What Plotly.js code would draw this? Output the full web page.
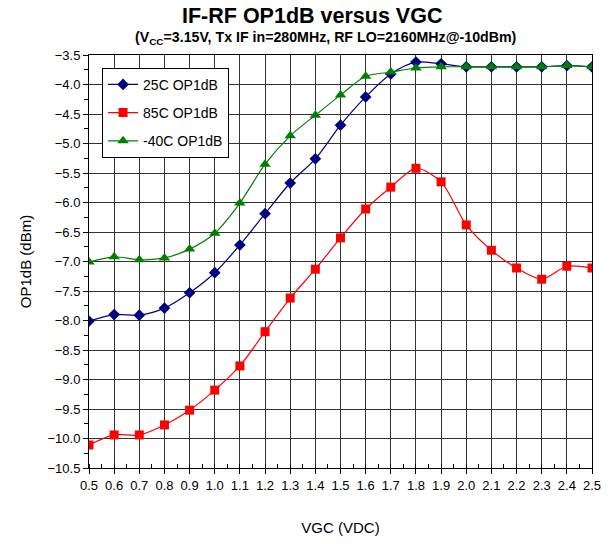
<!DOCTYPE html>
<html><head><meta charset="utf-8">
<script src="https://cdn.plot.ly/plotly-3.0.1.min.js"></script>
<style>body{margin:0;padding:0;background:#fff}#chart{width:611px;height:544px}</style>
</head><body><div id="chart"></div>
<script>
const vgc = [0.5,0.6,0.7,0.8,0.9,1.0,1.1,1.2,1.3,1.4,1.5,1.6,1.7,1.8,1.9,2.0,2.1,2.2,2.3,2.4,2.5];
const op25 = [-8.01,-7.90,-7.91,-7.79,-7.53,-7.19,-6.72,-6.19,-5.67,-5.26,-4.69,-4.21,-3.82,-3.62,-3.65,-3.70,-3.70,-3.70,-3.70,-3.68,-3.70];
const op85 = [-10.11,-9.94,-9.94,-9.77,-9.52,-9.18,-8.77,-8.19,-7.62,-7.13,-6.60,-6.11,-5.74,-5.42,-5.65,-6.38,-6.81,-7.11,-7.30,-7.08,-7.11];
const opM40 = [-7.01,-6.92,-6.97,-6.94,-6.79,-6.52,-6.01,-5.35,-4.87,-4.52,-4.18,-3.86,-3.79,-3.72,-3.70,-3.70,-3.70,-3.70,-3.70,-3.68,-3.70];
const names = ['25C OP1dB','85C OP1dB','-40C OP1dB'];

const font = 'Arial, "Liberation Sans", sans-serif';
function tr(y, name, color, symbol, size, g){
  return {x: vgc, y: y, name: name, type:'scatter', mode:'lines+markers',
    line:{color:color, width:1.2, shape:'spline', smoothing:0.8},
    marker:{color:color, symbol:symbol, size:size}, legendgroup:g};
}
const data = [
  tr(op25, names[0], '#000080', 'diamond', 9, 'a'),
  tr(op85, names[1], '#ff0000', 'square', 9, 'b'),
  tr(opM40, names[2], '#008000', 'triangle-up', 10, 'c')
];
const layout = {
  width:611, height:544,
  margin:{l:89, r:19, t:55, b:76},
  paper_bgcolor:'#fff', plot_bgcolor:'#fff',
  font:{family:font, size:13, color:'#000'},
  title:{text:'<b>IF-RF OP1dB versus VGC</b>', font:{size:21.5, family:font}, x:0.511, xanchor:'center', y:0.972, yanchor:'middle'},
  annotations:[{text:'<b>(V<sub>CC</sub>=3.15V, Tx IF in=280MHz, RF LO=2160MHz@-10dBm)</b>', xref:'paper', yref:'paper',
    x:0.471, y:1, yshift:6, xanchor:'center', yanchor:'bottom', showarrow:false, font:{size:14.2, family:font}}],
  xaxis:{range:[0.5,2.5], dtick:0.1, tick0:0.5, tickformat:'.1f', showgrid:true, gridcolor:'#333', gridwidth:1,
    showline:true, linecolor:'#000', linewidth:1, mirror:true, ticks:'outside', ticklen:5, tickcolor:'#000',
    minor:{dtick:0.05, ticks:'inside', ticklen:4, tickcolor:'#000', showgrid:false},
    zeroline:false, tickfont:{size:13}, title:{text:'VGC (VDC)', font:{size:15}, standoff:30}},
  yaxis:{range:[-10.5,-3.5], dtick:0.5, tick0:-3.5, tickformat:'.1f', showgrid:true, gridcolor:'#333', gridwidth:1,
    showline:true, linecolor:'#000', linewidth:1, mirror:true, ticks:'outside', ticklen:5, tickcolor:'#000',
    minor:{dtick:0.25, ticks:'outside', ticklen:4, tickcolor:'#000', showgrid:false},
    zeroline:false, tickfont:{size:13}, title:{text:'OP1dB (dBm)', font:{size:15}, standoff:12}},
  showlegend:true,
  legend:{x:0.026, y:0.969, xanchor:'left', yanchor:'top', bgcolor:'#fff', bordercolor:'#000', borderwidth:1,
    font:{size:14}, traceorder:'grouped', tracegroupgap:7}
};
Plotly.newPlot('chart', data, layout, {displayModeBar:false, staticPlot:true});
</script></body></html>
